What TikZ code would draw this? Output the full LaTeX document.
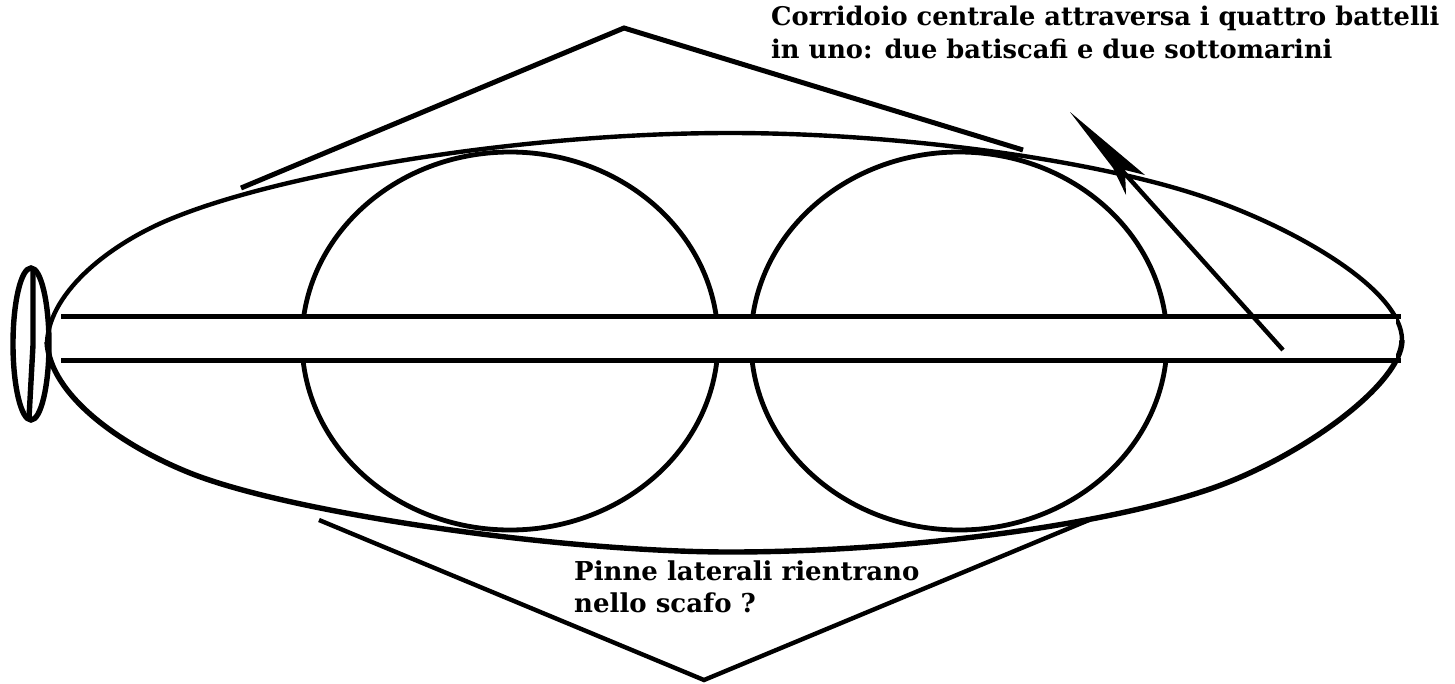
\documentclass[tikz,border=0pt]{standalone}
\usepackage{fontspec}
\setmainfont{DejaVu Serif}
\begin{document}
\begin{tikzpicture}[x=1pt,y=-1pt,
  stroke/.style={draw=black,line width=4.8pt},
  label text/.style={anchor=north west,align=left,inner sep=0pt,text=black}]
\useasboundingbox (0,0) rectangle (1455,683);
% hull: upper edge
\draw[stroke,line width=4.4pt] (47,342) .. controls (50,290) and (113,242) .. (173,218)
  .. controls (283,173) and (520,133) .. (730,133)
  .. controls (900,133) and (1097,160) .. (1207,198)
  .. controls (1297,229) and (1402,290) .. (1402,340);
% hull: lower edge
\draw[stroke,line width=5.4pt] (1402,340) .. controls (1402,385) and (1297,460) .. (1207,490)
  .. controls (1097,527) and (900,552) .. (730,552)
  .. controls (560,552) and (290,513) .. (190,473)
  .. controls (120,445) and (50,395) .. (47,342);
% pressure hulls
\draw[stroke] (510,341) ellipse [x radius=208,y radius=189];
\draw[stroke] (959,341) ellipse [x radius=208,y radius=189];
% corridor
\fill[white] (61,318) rectangle (1396,358);
\draw[stroke,line width=5pt] (61,316) -- (1401,316);
\draw[stroke,line width=5pt] (61,360) -- (1401,360);
% fins
\draw[stroke,line width=5pt] (241,188) -- (624,28) -- (1023,150);
\draw[stroke,line width=4.4pt] (319,520) -- (704,680) -- (1089,520);
% rudder
\draw[stroke,line width=5.4pt] (31,344) ellipse [x radius=18,y radius=76];
\draw[stroke,line width=5.4pt] (33,268) -- (33,345) -- (29,418);
% arrow
\coordinate (tail) at (1283,350);
\coordinate (shaft) at (1118,166);
\coordinate (tip) at (1070,112);
\coordinate (barbA) at (1145,175);
\coordinate (barbB) at (1126,195);
\draw[stroke,line width=4.4pt] (tail) -- (shaft);
\fill[black] (tip) -- (barbA) -- (1125,170) -- (barbB) -- (1113,168) -- cycle;
% labels
\node[label text,font=\bfseries\fontsize{25.7}{33}\selectfont] (corridoio) at (771,5.5)
  {Corridoio centrale attraversa i quattro battelli\\in uno: due batiscafi e due sottomarini};
\node[label text,font=\bfseries\fontsize{26}{32}\selectfont] (pinne) at (574,561)
  {Pinne laterali rientrano\\nello scafo ?};
\end{tikzpicture}
\end{document}
